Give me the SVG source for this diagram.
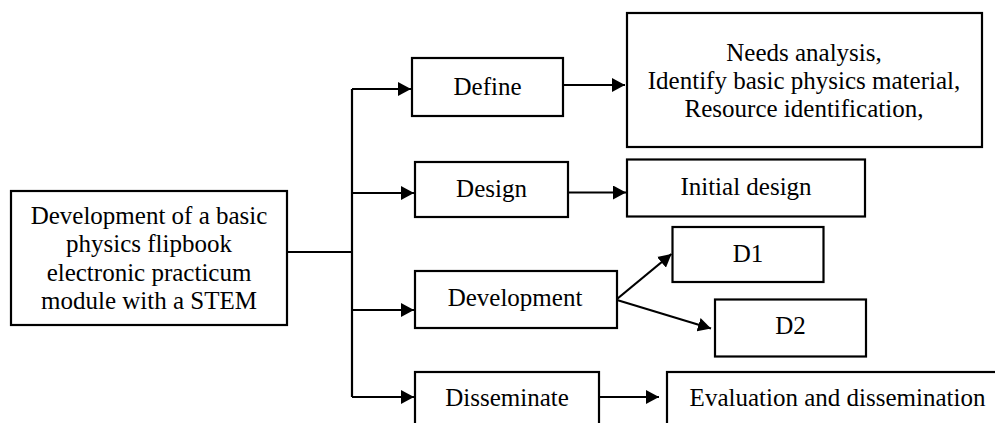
<svg xmlns="http://www.w3.org/2000/svg" width="995" height="423" viewBox="0 0 995 423">
<defs>
<style>
.box{fill:#fff;stroke:#000;stroke-width:2.2}
.t{font-family:"Liberation Serif","Times New Roman",serif;font-size:25px;fill:#000;text-anchor:middle}
.ln{fill:none;stroke:#000;stroke-width:2.2}
</style>
<marker id="ah" viewBox="0 0 13 14" refX="13" refY="7" markerWidth="13" markerHeight="14" markerUnits="userSpaceOnUse" orient="auto">
<path d="M0,0 L13,7 L0,14 Z" fill="#000"/>
</marker>
</defs>
<rect width="995" height="423" fill="#fff"/>
<g id="connectors">
<polyline class="ln" points="287,252 352,252"/>
<polyline class="ln" points="352,89 352,397"/>
<line class="ln" x1="352" y1="89" x2="411" y2="89" marker-end="url(#ah)"/>
<line class="ln" x1="352" y1="193" x2="414" y2="193" marker-end="url(#ah)"/>
<line class="ln" x1="352" y1="310" x2="414" y2="310" marker-end="url(#ah)"/>
<line class="ln" x1="352" y1="397" x2="414" y2="397" marker-end="url(#ah)"/>
<line class="ln" x1="564" y1="85" x2="625" y2="85" marker-end="url(#ah)"/>
<line class="ln" x1="568" y1="192.5" x2="626" y2="192.5" marker-end="url(#ah)"/>
<line class="ln" x1="617" y1="299" x2="671.5" y2="254" marker-end="url(#ah)"/>
<line class="ln" x1="617" y1="300" x2="711" y2="328.5" marker-end="url(#ah)"/>
<line class="ln" x1="599" y1="397" x2="659" y2="397" marker-end="url(#ah)"/>
</g>
<g id="main">
<rect class="box" x="11" y="191" width="276" height="134"/>
<text class="t" x="149" y="223.5">Development of a basic</text>
<text class="t" x="149" y="252">physics flipbook</text>
<text class="t" x="149" y="280.5">electronic practicum</text>
<text class="t" x="149" y="309">module with a STEM</text>
</g>
<g id="define">
<rect class="box" x="412" y="58" width="151" height="58"/>
<text class="t" x="487.5" y="95">Define</text>
</g>
<g id="design">
<rect class="box" x="415" y="162" width="153" height="55"/>
<text class="t" x="491.5" y="197">Design</text>
</g>
<g id="development">
<rect class="box" x="415" y="271" width="202" height="57"/>
<text class="t" x="515" y="306">Development</text>
</g>
<g id="disseminate">
<rect class="box" x="415" y="372" width="184" height="60"/>
<text class="t" x="507" y="406">Disseminate</text>
</g>
<g id="needs">
<rect class="box" x="627" y="13" width="355" height="134"/>
<text class="t" x="804" y="60.5">Needs analysis,</text>
<text class="t" x="804" y="89">Identify basic physics material,</text>
<text class="t" x="804" y="117">Resource identification,</text>
</g>
<g id="initial">
<rect class="box" x="627" y="159.5" width="238" height="57"/>
<text class="t" x="746" y="195">Initial design</text>
</g>
<g id="d1">
<rect class="box" x="672.5" y="227" width="151" height="55"/>
<text class="t" x="748" y="262">D1</text>
</g>
<g id="d2">
<rect class="box" x="715" y="299.5" width="151" height="57"/>
<text class="t" x="790.5" y="333.5">D2</text>
</g>
<g id="evaluation">
<rect class="box" x="667" y="372" width="340" height="60"/>
<text class="t" x="837.5" y="406">Evaluation and dissemination</text>
</g>
</svg>
